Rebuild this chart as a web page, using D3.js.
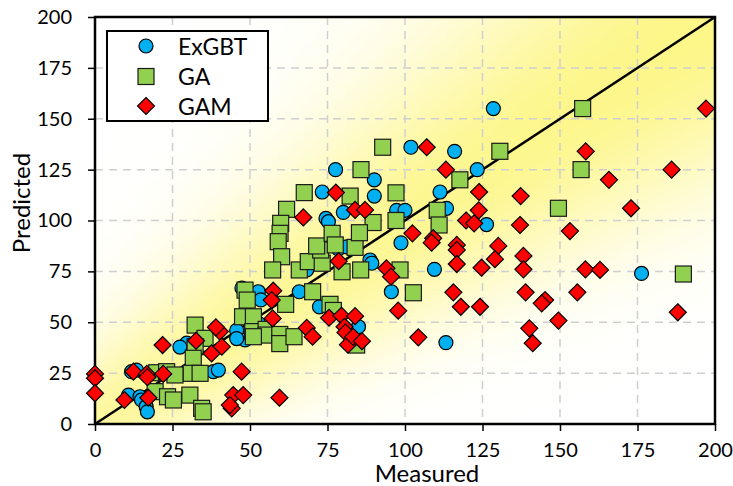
<!DOCTYPE html>
<html>
<head>
<meta charset="utf-8">
<script src="https://cdn.jsdelivr.net/npm/d3@7/dist/d3.min.js"></script>
<style>
body { margin: 0; background: #fff; }
text { font-family: Lato, "Open Sans", sans-serif; fill: #000; }
</style>
</head>
<body>
<div id="chart"></div>
<script>
var width = 733;
var height = 486;

// axis ticks
var ticks = [0, 25, 50, 75, 100, 125, 150, 175, 200];
var seriesNames = ["ExGBT", "GA", "GAM"];

// [measured, predicted]
var exgbt = [
[128.5,155],[101.9,136],[116,134],[123.3,125],[111.3,114],[113.4,106],[97.3,105],[100,105],
[126.3,98],[98.7,89],[109.5,76],[95.6,65],[113.2,40],[176.3,74],
[77.6,125],[90.1,120],[90.1,112],[73.3,114],[80.1,104],[74.5,101],[75.3,99.4],[78.5,86],
[81.2,87],[88.7,80.6],[89.3,79],[68.3,75.7],[85,47.8],
[52.7,65],[53.5,61],[47.4,66.8],[65.9,65],[72.4,57.6],[47.3,44.6],[48.4,41.3],[45.7,46],
[45.7,42],[50.5,42.9],[52.2,45.4],[52.7,49.5],
[29.6,39.7],[27.4,37.8],[38.2,25.7],[39.8,26.5],[11.8,25.7],[13.4,26.5],[10.8,14.2],
[14.5,13.4],[15,11.8],[16.5,8.5],[16.9,6]
];
var ga = [
[157.3,155],[130.6,134],[92.8,136],[85.8,125],[156.8,125],[117.7,120],[97.1,113.6],[67.5,113.7],
[82.3,112],[149.5,106],[110.4,105],[61.8,105.5],[97.1,100],[111,97.8],[89.7,99],[98.4,75.7],
[102.7,64.5],[189.8,73.7],
[59.9,98.6],[59.7,93.7],[59.1,89.6],[60.2,82.2],[57.3,75.7],[65.9,75.7],[68.8,79.8],[73.3,79],
[72.8,85.5],[71.5,87.5],[76.5,93.7],[79.7,74.8],[85.7,75.7],[83.9,86.8],[85.3,94],[77.5,88],
[48.4,65.8],[49.1,60.9],[47.6,52.7],[51.1,52.7],[50.9,45.4],[55.2,46.5],[55.2,43.7],[59.6,44],
[59.6,39.5],[64.2,42.9],[51.1,42.9],[70.2,65],[75.8,58.8],[76.9,55.8],[61.5,58.8],[84.4,38.8],
[32.3,48.6],[35.5,42.1],[32.3,38],[31.7,32.3],[31,24.9],[33.9,24.9],[19.4,15.9],[23.4,13.4],
[25.3,11.8],[30.6,14.2],[34.4,7.7],[34.9,6],[19.9,25.2],[23.1,25.7],[25.8,24.1]
];
var gam = [
[197.1,155],[107,136],[158.3,134],[113.2,125],[165.8,120],[186,125],[123.9,114],[137.3,112],
[172.9,106],[123.8,105],[119.7,100],[122.3,98.6],[137.1,97.8],[102.4,93.7],[109.1,91.3],[108.6,89.1],
[116.7,88],[116.7,85.5],[130.1,87.5],[129,81],[138.2,82.6],[138.2,76],[116.7,78.6],[124.7,76.8],
[158.2,76],[162.9,75.7],[153.2,94.8],[155.6,64.7],[145.2,60.9],[144.1,59.3],[149.5,50.8],[140.1,47],
[141.2,39.7],[104.3,42.6],[97.8,55.7],[115.6,64.7],[118,57.6],[124.2,57.6],[138.9,64.7],[188,54.9],
[77.7,113.7],[83.9,105.2],[87.1,105.2],[67.2,101.5],[78.6,80],[94,76.5],[95.5,72.4],[57.5,65.5],
[57,60.9],[57.3,51.9],[75.5,52.2],[79.5,53.2],[83.9,53],[80.5,47.8],[80.8,45],[81.6,39],
[83.3,42.8],[86.1,40.7],[68.3,47.2],[70.2,42.9],
[47.3,25.7],[0,24.6],[0,22.5],[0,15.1],[9.5,11.8],[12.4,25.7],[16.7,24.6],[16.9,23],
[17.2,12.9],[22,24.6],[21.8,38.8],[32.6,40.9],[37.6,34.7],[40.3,45.4],[39,47.5],[40.9,38],
[44.6,14.2],[47.8,14.2],[44.1,7.7],[43.5,9.3],[59.5,12.9]
];

var svg = d3.select("#chart").append("svg")
.attr("width", width)
.attr("height", height);

var xScale = d3.scaleLinear().domain([0, 200]).range([95, 715]);
var yScale = d3.scaleLinear().domain([0, 200]).range([424, 17]);

// yellow band along the 1:1 line, painted on a small canvas and stretched
var N = 100;
var cnv = document.createElement("canvas");
cnv.width = N;
cnv.height = N;
var ctx = cnv.getContext("2d");
var img = ctx.createImageData(N, N);
for (var j = 0; j < N; j++) {
for (var i = 0; i < N; i++) {
var m = (i + 0.5) / N * 200;
var p = 200 - (j + 0.5) / N * 200;
var s = (m + p) / 2;
var w = 35 + 0.3 * s;
var t = Math.abs(p - m) / w;
var a = Math.exp(-t * t) * (0.8 + 0.2 * s / 200);
var k = (j * N + i) * 4;
img.data[k] = 255 - 2 * a;
img.data[k + 1] = 255 - 9 * a;
img.data[k + 2] = 255 - 120 * a;
img.data[k + 3] = 255;
}
}
ctx.putImageData(img, 0, 0);
svg.append("image")
.attr("href", cnv.toDataURL())
.attr("x", xScale(0))
.attr("y", yScale(200))
.attr("width", xScale(200) - xScale(0))
.attr("height", yScale(0) - yScale(200))
.attr("preserveAspectRatio", "none");

// dashed grid
var inner = ticks.slice(1, -1);
svg.append("g").selectAll("line").data(inner).enter().append("line")
.attr("x1", function(d) { return xScale(d); })
.attr("x2", function(d) { return xScale(d); })
.attr("y1", yScale(200)).attr("y2", yScale(0))
.attr("stroke", "#cfcfcf").attr("stroke-width", 1.5).attr("stroke-dasharray", "8,6");
svg.append("g").selectAll("line").data(inner).enter().append("line")
.attr("y1", function(d) { return yScale(d); })
.attr("y2", function(d) { return yScale(d); })
.attr("x1", xScale(0)).attr("x2", xScale(200))
.attr("stroke", "#cfcfcf").attr("stroke-width", 1.5).attr("stroke-dasharray", "8,6");

// axes
var xAxis = d3.axisBottom(xScale).tickValues(ticks).tickSize(7).tickPadding(12);
var yAxis = d3.axisLeft(yScale).tickValues(ticks).tickSize(7).tickPadding(16);
var gx = svg.append("g").attr("transform", "translate(0," + yScale(0) + ")").call(xAxis);
var gy = svg.append("g").attr("transform", "translate(" + xScale(0) + ",0)").call(yAxis);
[gx, gy].forEach(function(g) {
g.select(".domain").remove();
g.selectAll(".tick line").attr("stroke", "#000").attr("stroke-width", 1.5);
g.selectAll(".tick text").attr("font-size", 20).attr("font-family", "Lato, 'Open Sans', sans-serif").attr("fill", "#000");
});

// 1:1 line
svg.append("line")
.attr("x1", xScale(0)).attr("y1", yScale(0))
.attr("x2", xScale(200)).attr("y2", yScale(200))
.attr("stroke", "#000").attr("stroke-width", 2.5);

// frame
svg.append("rect")
.attr("x", xScale(0)).attr("y", yScale(200))
.attr("width", xScale(200) - xScale(0))
.attr("height", yScale(0) - yScale(200))
.attr("fill", "none").attr("stroke", "#000").attr("stroke-width", 2.5);

// markers
function diamond(r) {
return "M0," + (-r) + "L" + r + ",0L0," + r + "L" + (-r) + ",0Z";
}
svg.append("g").selectAll("circle").data(exgbt).enter().append("circle")
.attr("cx", function(d) { return xScale(d[0]); })
.attr("cy", function(d) { return yScale(d[1]); })
.attr("r", 7)
.attr("fill", "#00b0f0").attr("stroke", "#000").attr("stroke-width", 1.2);
svg.append("g").selectAll("rect").data(ga).enter().append("rect")
.attr("x", function(d) { return xScale(d[0]) - 8; })
.attr("y", function(d) { return yScale(d[1]) - 8; })
.attr("width", 16).attr("height", 16)
.attr("fill", "#92d050").attr("stroke", "#1a1a1a").attr("stroke-width", 1.2);
svg.append("g").selectAll("path").data(gam).enter().append("path")
.attr("d", diamond(8.5))
.attr("transform", function(d) { return "translate(" + xScale(d[0]) + "," + yScale(d[1]) + ")"; })
.attr("fill", "#ff0000").attr("stroke", "#000").attr("stroke-width", 1.2);

// legend
var legend = svg.append("g");
legend.append("rect")
.attr("x", 107).attr("y", 31).attr("width", 161).attr("height", 90)
.attr("fill", "#fff").attr("stroke", "#000").attr("stroke-width", 2);
var rows = [46, 76.5, 106];
legend.append("circle").attr("cx", 146).attr("cy", rows[0]).attr("r", 7)
.attr("fill", "#00b0f0").attr("stroke", "#000").attr("stroke-width", 1.2);
legend.append("rect").attr("x", 138).attr("y", rows[1] - 8).attr("width", 16).attr("height", 16)
.attr("fill", "#92d050").attr("stroke", "#1a1a1a").attr("stroke-width", 1.2);
legend.append("path").attr("d", diamond(8.5)).attr("transform", "translate(146," + rows[2] + ")")
.attr("fill", "#ff0000").attr("stroke", "#000").attr("stroke-width", 1.2);
legend.selectAll("text.lab").data(seriesNames).enter().append("text")
.attr("class", "lab")
.attr("x", 178)
.attr("y", function(d, i) { return rows[i] + 8.5; })
.attr("font-size", 23)
.text(function(d) { return d; });

// axis titles
svg.append("text")
.attr("x", 427).attr("y", 482)
.attr("text-anchor", "middle")
.attr("font-size", 24)
.text("Measured");
svg.append("text")
.attr("transform", "translate(30,203)rotate(-90)")
.attr("text-anchor", "middle")
.attr("font-size", 24)
.text("Predicted");
</script>
</body>
</html>
